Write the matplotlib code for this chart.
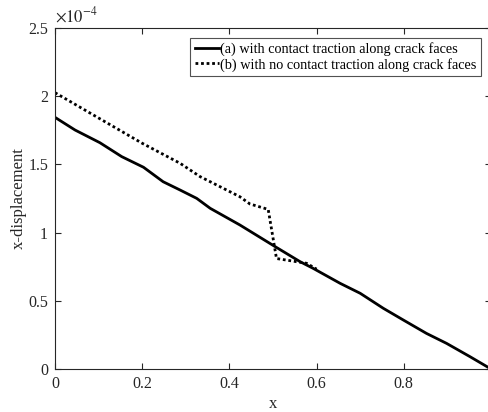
import numpy as np
import matplotlib.pyplot as plt

plt.rcParams['font.family'] = ['Liberation Serif', 'DejaVu Serif']
plt.rcParams['mathtext.fontset'] = 'stix'

# (a) with contact traction
xa = [0.0, 0.046, 0.103, 0.153, 0.203, 0.248, 0.287, 0.325, 0.356, 0.424, 0.505,
      0.562, 0.592, 0.654, 0.700, 0.753, 0.799, 0.852, 0.898, 0.952, 1.0]
ya = [1.845, 1.752, 1.659, 1.557, 1.479, 1.373, 1.312, 1.251, 1.178, 1.056, 0.897,
      0.787, 0.738, 0.628, 0.555, 0.445, 0.359, 0.261, 0.188, 0.090, 0.0]

# (b) without contact traction
xb = [0.0, 0.100, 0.200, 0.287, 0.333, 0.356, 0.424, 0.447, 0.489, 0.508, 0.577, 0.600]
yb = [2.026, 1.840, 1.655, 1.508, 1.410, 1.373, 1.263, 1.210, 1.170, 0.810, 0.775, 0.732]

scale = 1e-4
dark = '#262626'

fig = plt.figure(figsize=(4.88, 4.12), dpi=100)
ax = fig.add_axes([55/488, 43/412, 436/488, 341/412])

ax.plot(xa, np.array(ya) * scale, color='black', lw=2,
        label='(a) with contact traction along crack faces')
ax.plot(xb, np.array(yb) * scale, color='black', lw=2, linestyle=(0, (1, 1)),
        label='(b) with no contact traction along crack faces')

ax.set_xlim(0, 1)
ax.set_ylim(0, 2.5e-4)
ax.set_xticks([0, 0.2, 0.4, 0.6, 0.8])
ax.set_xticklabels(['0', '0.2', '0.4', '0.6', '0.8'])
ax.set_yticks(np.arange(0, 2.51e-4, 0.5e-4))
ax.set_yticklabels(['0', '0.5', '1', '1.5', '2', '2.5'])
ax.tick_params(direction='in', top=True, right=True, length=4, width=0.8,
               colors=dark, labelsize=11.5, pad=5)
for s in ax.spines.values():
    s.set_color(dark)
    s.set_linewidth(0.8)

ax.text(0.0, 1.005, r'$\times 10^{-4}$', transform=ax.transAxes, fontsize=12,
        color=dark, va='bottom', ha='left')

ax.set_xlabel('x', fontsize=12, color=dark, labelpad=3)
ax.set_ylabel('x-displacement', fontsize=12, color=dark, labelpad=1)

leg = ax.legend(loc='upper right', bbox_to_anchor=(426/436, 1 - 10/341), fontsize=10.3,
                frameon=True, fancybox=False, edgecolor=dark, handlelength=1.7,
                handletextpad=0.1, borderpad=0.3, labelspacing=0.1, borderaxespad=0)
leg.get_frame().set_linewidth(0.8)

fig.savefig('out.png', dpi=100)
